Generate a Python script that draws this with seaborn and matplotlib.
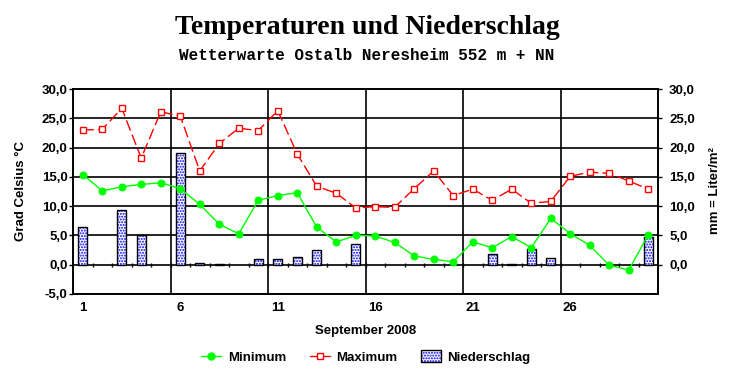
import numpy as np
import pandas as pd
import matplotlib
matplotlib.use("Agg")
import matplotlib.pyplot as plt
import seaborn as sns
from matplotlib.lines import Line2D
from matplotlib.patches import Patch
from matplotlib.legend_handler import HandlerTuple

# data (September 2008)
days = list(range(1, 31))
t_min = [15.4, 12.6, 13.3, 13.7, 14.0, 13.0, 10.3, 6.9, 5.3, 11.0,
         11.8, 12.3, 6.4, 3.9, 5.0, 4.9, 3.8, 1.5, 0.9, 0.5,
         3.9, 2.9, 4.8, 2.9, 7.9, 5.3, 3.3, -0.1, -0.9, 5.1]
t_max = [23.0, 23.1, 26.7, 18.2, 26.1, 25.4, 16.0, 20.7, 23.3, 22.9,
         26.3, 18.9, 13.4, 12.2, 9.7, 9.9, 9.8, 13.0, 16.0, 11.8,
         12.9, 11.0, 12.9, 10.5, 10.8, 15.1, 15.8, 15.6, 14.3, 12.9]
rain = [6.4, 0, 9.3, 5.0, 0, 19.1, 0.3, 0.1, 0, 1.0,
        0.9, 1.4, 2.5, 0, 3.5, 0, 0, 0, 0, 0,
        0, 1.9, 0.2, 2.6, 1.2, 0, 0, 0, 0, 4.7]
x_labels = [1, 6, 11, 16, 21, 26]
y_ticks = [-5, 0, 5, 10, 15, 20, 25, 30]

df = pd.DataFrame({"Tag": days, "Minimum": t_min, "Maximum": t_max, "Niederschlag": rain})
df_rain = df[df["Niederschlag"] > 0]

sns.set_style("white")
plt.rcParams["font.family"] = ["Liberation Sans", "DejaVu Sans"]
plt.rcParams["font.weight"] = "bold"
plt.rcParams["hatch.linewidth"] = 1.0
for key in ["text.color", "axes.labelcolor", "xtick.color", "ytick.color"]:
    plt.rcParams[key] = "black"

fig = plt.figure(figsize=(7.32, 3.80), dpi=100)
ax = fig.add_axes([73 / 732, 1 - 294 / 380, 585 / 732, 205 / 380])

# precipitation bars: blue dotted fill, then black outline
sns.barplot(data=df_rain, x="Tag", y="Niederschlag", native_scale=True, width=0.48,
            color="white", saturation=1, errorbar=None, edgecolor="#0000ff",
            linewidth=0, hatch="......", ax=ax, zorder=3)
sns.barplot(data=df_rain, x="Tag", y="Niederschlag", native_scale=True, width=0.48,
            facecolor="none", saturation=1, errorbar=None, edgecolor="black",
            linewidth=1.0, ax=ax, zorder=4)

sns.lineplot(data=df, x="Tag", y="Maximum", color="#ff0000", lw=1.0,
             linestyle=(0, (8, 3)), marker="s", markersize=5, markerfacecolor="white",
             markeredgecolor="#ff0000", markeredgewidth=1.0, ax=ax, zorder=5)
sns.lineplot(data=df, x="Tag", y="Minimum", color="#00ff00", lw=1.0,
             marker="o", markersize=5, markeredgecolor="#00ff00", ax=ax, zorder=5)

ax.set_xlim(0.5, 30.5)
ax.set_ylim(-5, 30)
ax.set_yticks(y_ticks)
ax.set_yticklabels([f"{v:.1f}".replace(".", ",") for v in y_ticks], fontsize=9.5, fontweight="bold")
ax.set_xticks(x_labels)
ax.set_xticklabels([str(v) for v in x_labels], fontsize=9.5, fontweight="bold")
ax.tick_params(axis="x", length=0, pad=6)
ax.tick_params(axis="y", length=3, width=1, pad=1, direction="out", left=True)
ax.set_xticks(np.arange(5.5, 30, 5), minor=True)
ax.tick_params(axis="x", which="minor", length=0)
ax.grid(axis="y", which="major", color="black", lw=1.2)
ax.grid(axis="x", which="minor", color="black", lw=1.2)
ax.set_axisbelow(True)
ax.set_xlabel("")
ax.set_ylabel("")
# day boundary ticks on the zero line
ax.vlines(np.arange(1.5, 30.5, 1), -0.45, 0.3, color="black", lw=1.0, zorder=2)
for s in ax.spines.values():
    s.set_color("black")
    s.set_linewidth(1.2)

ax2 = ax.twinx()
ax2.set_ylim(-5, 30)
ax2.set_yticks(y_ticks[1:])
ax2.set_yticklabels([f"{v:.1f}".replace(".", ",") for v in y_ticks[1:]], fontsize=9.5, fontweight="bold")
ax2.tick_params(axis="y", length=3, width=1, pad=5, direction="out", right=True)
for s in ax2.spines.values():
    s.set_color("black")
    s.set_linewidth(1.2)

fig.text(21 / 732, 1 - 191 / 380, "Grad Celsius °C", rotation=90, ha="center", va="center",
         fontsize=9.5, fontweight="bold")
fig.text(715 / 732, 1 - 191 / 380, "mm = Liter/m²", rotation=90, ha="center", va="center",
         fontsize=9.5, fontweight="bold")
fig.text(366 / 732, 1 - 331 / 380, "September 2008", ha="center", va="center",
         fontsize=9.5, fontweight="bold")

fig.text(367 / 732, 1 - 27 / 380, "Temperaturen und Niederschlag", ha="center", va="center",
         fontsize=20, fontweight="bold", family="Liberation Serif")
fig.text(367 / 732, 1 - 55 / 380, "Wetterwarte Ostalb Neresheim 552 m + NN", ha="center",
         va="center", fontsize=11.5, fontweight="bold", family="Liberation Mono")

h_min = Line2D([], [], color="#00ff00", lw=1.0, marker="o", markersize=5)
h_max = Line2D([], [], color="#ff0000", lw=1.0, marker="s", markersize=4,
               markerfacecolor="white", markeredgecolor="#ff0000")
h_rain = (Patch(facecolor="white", edgecolor="#0000ff", lw=0, hatch="......"),
          Patch(facecolor="none", edgecolor="black", lw=1.0))
fig.legend([h_min, h_max, h_rain], ["Minimum", "Maximum", "Niederschlag"],
           loc="center", bbox_to_anchor=(366 / 732, 1 - 357 / 380), ncol=3, frameon=False,
           prop={"size": 9.5, "weight": "bold"}, handlelength=1.5, handleheight=1.0,
           handletextpad=0.5, columnspacing=1.8,
           handler_map={tuple: HandlerTuple(ndivide=1, pad=0)})

fig.savefig("out.png", dpi=100, facecolor="white")
